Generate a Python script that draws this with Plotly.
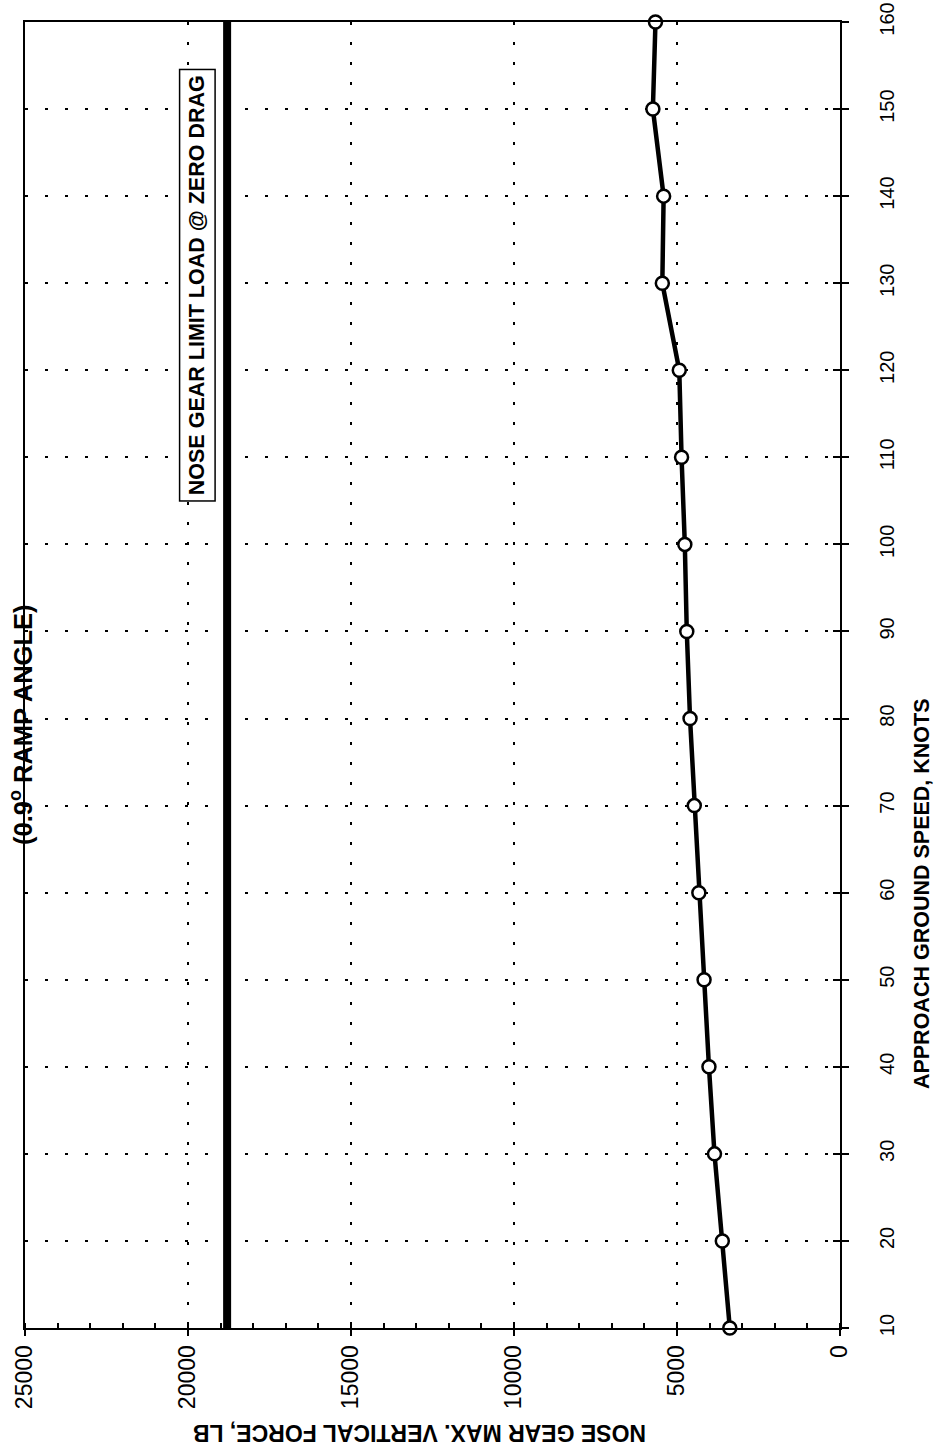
import plotly.graph_objects as go

# Approach ground speed (knots) and nose gear max vertical force (lb)
SPEED_KT = [10, 20, 30, 40, 50, 60, 70, 80, 90, 100, 110, 120, 130, 140, 150, 160]
FORCE_LB = [3380, 3610, 3850, 4020, 4170, 4330, 4470, 4600, 4700, 4760, 4860, 4930,
            5450, 5410, 5740, 5660]

LIMIT_LOAD_LB = 18800
LIMIT_SPEED_KT = [10, 160]

X_TICKS = [0, 5000, 10000, 15000, 20000, 25000]
Y_TICKS = [10, 20, 30, 40, 50, 60, 70, 80, 90, 100, 110, 120, 130, 140, 150, 160]
X_RANGE = [25000, 0]
Y_RANGE = [10, 160]

BLACK = "#000000"
FONT = "Arial, Liberation Sans, sans-serif"
GRID_DASH = "3px,17px"

fig = go.Figure()

# Limit load line (drawn on the overlay axes so they get rendered)
fig.add_trace(
    go.Scatter(
        x=[LIMIT_LOAD_LB] * len(LIMIT_SPEED_KT),
        y=LIMIT_SPEED_KT,
        xaxis="x2",
        yaxis="y2",
        mode="lines",
        line=dict(color=BLACK, width=8),
        showlegend=False,
        cliponaxis=False,
    )
)

# Nose gear force curve
fig.add_trace(
    go.Scatter(
        x=FORCE_LB,
        y=SPEED_KT,
        mode="lines+markers",
        line=dict(color=BLACK, width=4.5),
        marker=dict(size=13, color="white", line=dict(color=BLACK, width=2.5)),
        showlegend=False,
        cliponaxis=False,
    )
)

axis_common = dict(showgrid=True, gridcolor=BLACK, gridwidth=1.5, griddash=GRID_DASH,
                   zeroline=False, fixedrange=True, automargin=False)

fig.update_layout(
    width=936,
    height=1448,
    margin=dict(l=25, r=96, t=22, b=120),
    paper_bgcolor="white",
    plot_bgcolor="white",
    font=dict(family=FONT, color=BLACK),
    xaxis=dict(
        range=X_RANGE,
        tickvals=X_TICKS,
        ticktext=[str(v) for v in X_TICKS],
        tickangle=-90,
        tickfont=dict(size=23),
        ticks="outside",
        ticklen=6,
        tickwidth=1.5,
        tickcolor=BLACK,
        minor=dict(dtick=1000, ticks="inside", ticklen=5, tickcolor=BLACK, showgrid=False),
        showline=True,
        linecolor=BLACK,
        linewidth=2,
        mirror=True,
        **axis_common,
    ),
    yaxis=dict(
        range=Y_RANGE,
        side="right",
        tickvals=Y_TICKS,
        tickangle=-90,
        tickfont=dict(size=20),
        ticks="outside",
        ticklen=7,
        tickwidth=1.5,
        tickcolor=BLACK,
        ticklabelstandoff=21,
        ticklabeloverflow="allow",
        showline=True,
        linecolor=BLACK,
        linewidth=2,
        mirror=True,
        **axis_common,
    ),
    # overlay axes give the crossing tick marks
    xaxis2=dict(
        range=X_RANGE, overlaying="x", anchor="y", side="bottom",
        tickvals=X_TICKS, ticks="inside", ticklen=6, tickwidth=1.5, tickcolor=BLACK,
        showticklabels=False, showgrid=False, zeroline=False, showline=False,
        fixedrange=True,
    ),
    yaxis2=dict(
        range=Y_RANGE, overlaying="y", anchor="x", side="right",
        tickvals=Y_TICKS, ticks="inside", ticklen=7, tickwidth=1.5, tickcolor=BLACK,
        showticklabels=False, showgrid=False, zeroline=False, showline=False,
        fixedrange=True,
    ),
    annotations=[
        dict(
            text="<b>NOSE GEAR MAX. VERTICAL FORCE, LB</b>",
            xref="paper", yref="paper", x=0.4847, y=-0.0804,
            xanchor="center", yanchor="middle",
            textangle=180, showarrow=False, font=dict(size=23),
        ),
        dict(
            text="<b>APPROACH GROUND SPEED, KNOTS</b>",
            xref="paper", yref="paper", x=1.1006, y=0.333,
            xanchor="center", yanchor="middle",
            textangle=-90, showarrow=False, font=dict(size=21.5),
        ),
        dict(
            text="<b>(0.9<sup>o</sup> RAMP ANGLE)</b>",
            xref="paper", yref="paper", x=-0.005, y=0.4617,
            xanchor="center", yanchor="middle",
            textangle=-90, showarrow=False, font=dict(size=25.5),
        ),
        dict(
            text="<b>NOSE GEAR LIMIT LOAD @ ZERO DRAG</b>",
            xref="x", yref="y", x=19700, y=129.8,
            xanchor="center", yanchor="middle",
            textangle=-90, showarrow=False, font=dict(size=21.5),
            bgcolor="white", bordercolor=BLACK, borderwidth=1.5, borderpad=5,
        ),
    ],
)

fig.write_html(
    "out.html",
    config={"displayModeBar": False},
    post_script="document.body.style.margin='0';",
)
